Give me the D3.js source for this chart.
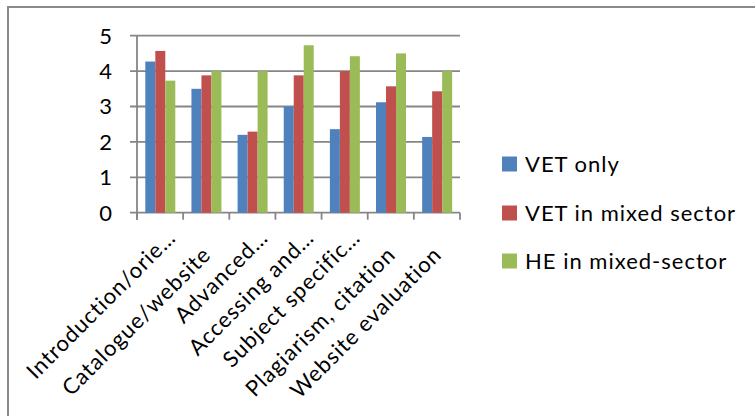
<!DOCTYPE html>
<html>
<head>
<meta charset="utf-8">
<script src="https://cdn.jsdelivr.net/npm/d3@7"></script>
<style>
  body { margin: 0; background: #fff; }
  svg text { font-family: Lato, "Open Sans", sans-serif; fill: #000; }
</style>
</head>
<body>
<div id="chart"></div>
<script>
const categories = ['Introduction/orie…', 'Catalogue/website', 'Advanced…', 'Accessing and…',
  'Subject specific…', 'Plagiarism, citation', 'Website evaluation'];
const seriesNames = ['VET only', 'VET in mixed sector', 'HE in mixed-sector'];
const vetOnly = [4.27, 3.5, 2.2, 3.0, 2.36, 3.12, 2.14];
const vetMixed = [4.57, 3.88, 2.29, 3.88, 4.0, 3.57, 3.43];
const heMixed = [3.73, 4.0, 4.0, 4.73, 4.42, 4.5, 4.0];
const yTicks = [0, 1, 2, 3, 4, 5];
const colors = ['#4f81bd', '#c0504d', '#9bbb59'];

const seriesValues = [vetOnly, vetMixed, heMixed];
const width = 755;
const height = 416;
const plot = {left: 137, right: 460, top: 35.7, bottom: 212.7};
const fontSize = 22;
const spacing = '1px';

const svg = d3.select('#chart').append('svg')
  .attr('width', width)
  .attr('height', height);

// frame, cut off on right and bottom like the original
svg.append('rect')
  .attr('x', 8).attr('y', 7)
  .attr('width', width).attr('height', height)
  .attr('fill', 'none')
  .attr('stroke', '#8a8a8a')
  .attr('stroke-width', 2);

// scales
const x0 = d3.scaleBand()
  .domain(categories)
  .range([plot.left, plot.right]);

const x1 = d3.scaleBand()
  .domain(seriesNames)
  .range([x0.bandwidth() * 0.18, x0.bandwidth() * 0.83]);

const y = d3.scaleLinear()
  .domain([0, 5])
  .range([plot.bottom, plot.top]);

// grid
const grid = svg.append('g');
grid.selectAll('line')
  .data(yTicks)
  .enter().append('line')
  .attr('x1', plot.left - 7)
  .attr('x2', plot.right)
  .attr('y1', d => y(d))
  .attr('y2', d => y(d))
  .attr('stroke', '#868686')
  .attr('stroke-width', 1.8);

// bars
const groups = svg.selectAll('g.cat')
  .data(categories)
  .enter().append('g')
  .attr('class', 'cat')
  .attr('transform', d => `translate(${x0(d)}, 0)`);

groups.selectAll('rect')
  .data((d, i) => seriesNames.map((s, j) => ({s, v: seriesValues[j][i], j})))
  .enter().append('rect')
  .attr('x', d => x1(d.s))
  .attr('y', d => y(d.v))
  .attr('width', x1.bandwidth())
  .attr('height', d => y(0) - y(d.v))
  .attr('fill', d => colors[d.j]);

// axes lines
svg.append('line')
  .attr('x1', plot.left).attr('x2', plot.left)
  .attr('y1', plot.top).attr('y2', plot.bottom + 7)
  .attr('stroke', '#868686').attr('stroke-width', 1.8);

const xTickPos = categories.map(c => x0(c)).concat([plot.right]);
svg.append('g').selectAll('line')
  .data(xTickPos)
  .enter().append('line')
  .attr('x1', d => d).attr('x2', d => d)
  .attr('y1', plot.bottom).attr('y2', plot.bottom + 7)
  .attr('stroke', '#868686').attr('stroke-width', 1.8);

// y tick labels
svg.append('g').selectAll('text')
  .data(yTicks)
  .enter().append('text')
  .attr('x', 112)
  .attr('y', d => y(d))
  .attr('dy', '0.36em')
  .attr('text-anchor', 'end')
  .style('font-size', fontSize + 'px')
  .text(d => d);

// category labels, rotated
svg.append('g').selectAll('text')
  .data(categories)
  .enter().append('text')
  .attr('transform', d => {
    const cx = x0(d) + x0.bandwidth() / 2;
    const cut = d.endsWith('…');
    return `translate(${cx + (cut ? 17 : 6)}, ${cut ? 239 : 256}) rotate(-45)`;
  })
  .attr('text-anchor', 'end')
  .style('font-size', fontSize + 'px')
  .style('letter-spacing', spacing)
  .text(d => d);

// legend
const legendRows = [164, 213, 261];
const legend = svg.append('g').attr('class', 'legend');
seriesNames.forEach((s, i) => {
  legend.append('rect')
    .attr('x', 502)
    .attr('y', legendRows[i] - 7.5)
    .attr('width', 15)
    .attr('height', 15)
    .attr('fill', colors[i]);
  legend.append('text')
    .attr('x', 525)
    .attr('y', legendRows[i])
    .attr('dy', '0.36em')
    .style('font-size', fontSize + 'px')
    .style('letter-spacing', spacing)
    .text(s);
});
</script>
</body>
</html>
